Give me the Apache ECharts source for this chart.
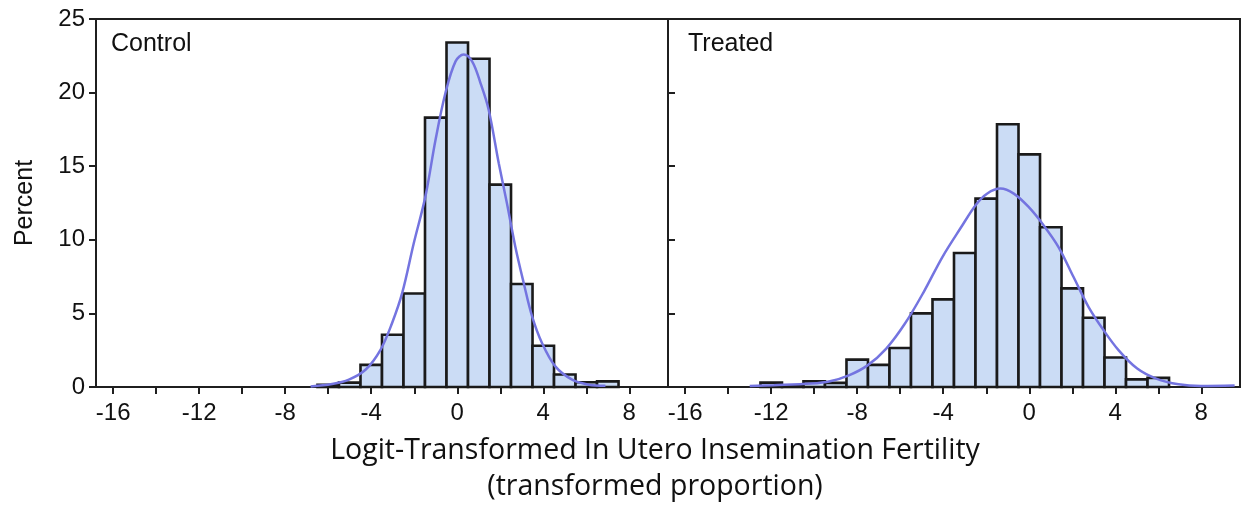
<!DOCTYPE html>
<html>
<head>
<meta charset="utf-8">
<script src="https://cdn.jsdelivr.net/npm/echarts@6/dist/echarts.min.js"></script>
<style>
html,body{margin:0;padding:0;background:#fff;}
#chart{width:1248px;height:506px;}
</style>
</head>
<body>
<div id="chart"></div>
<script>
// ---- data ----
const panelNames = ['Control', 'Treated'];
const binWidth = 1;
const controlBins = [-6, -5, -4, -3, -2, -1, 0, 1, 2, 3, 4, 5, 6, 7];
const controlPct = [0.15, 0.3, 1.5, 3.55, 6.35, 18.3, 23.4, 22.3, 13.75, 7.0, 2.8, 0.85, 0.32, 0.38];
const treatedBins = [-12, -11, -10, -9, -8, -7, -6, -5, -4, -3, -2, -1, 0, 1, 2, 3, 4, 5, 6];
const treatedPct = [0.3, 0.1, 0.38, 0.28, 1.86, 1.5, 2.65, 5.0, 5.95, 9.1, 12.8, 17.85, 15.8, 10.85, 6.7, 4.7, 2.0, 0.52, 0.62];
const controlCurveX = [-6.82, -5.82, -5.04, -4.27, -3.57, -3.03, -2.56, -2.02, -1.48, -1.01, -0.55, -0.08, 0.30, 0.69, 1.08, 1.46, 1.93, 2.31, 2.70, 3.09, 3.48, 3.94, 4.56, 5.34, 6.11, 6.89];
const controlCurveY = [0.04, 0.2, 0.5, 1.17, 2.53, 4.35, 6.39, 9.78, 12.95, 16.8, 19.97, 22.12, 22.58, 22.12, 20.65, 18.84, 15.2, 12.48, 9.53, 7.07, 4.8, 2.99, 1.4, 0.5, 0.16, 0.09];
const treatedCurveX = [-13.0, -11.88, -10.13, -9.26, -8.39, -7.52, -6.65, -5.78, -4.91, -4.04, -3.17, -2.47, -1.95, -1.34, -0.72, -0.03, 0.67, 1.36, 2.06, 2.76, 3.46, 4.16, 5.02, 5.90, 6.94, 7.99, 9.55];
const treatedCurveY = [0.07, 0.12, 0.23, 0.39, 0.79, 1.47, 2.61, 4.31, 6.45, 8.83, 10.85, 12.4, 13.15, 13.48, 13.14, 12.23, 10.98, 9.51, 7.47, 5.43, 3.85, 2.49, 1.25, 0.57, 0.18, 0.07, 0.1];
const xTickValues = [-16, -14, -12, -10, -8, -6, -4, -2, 0, 2, 4, 6, 8];
const xLabelValues = [-16, -12, -8, -4, 0, 4, 8];
const xMin = -16.8, xMax = 9.8;
const yMin = 0, yMax = 25, yStep = 5;
const yTitle = 'Percent';
const xTitleLines = ['Logit-Transformed In Utero Insemination Fertility', '(transformed proportion)'];

// ---- styles ----
const axisColor = '#1f1f1f';
const barFill = '#cbdcf5';
const curveColor = '#7474e0';
const tickFont = 'Liberation Sans, Arial, sans-serif';

const chart = echarts.init(document.getElementById('chart'), null, {renderer: 'canvas'});

function zip(a, b) { return a.map((v, i) => [v, b[i]]); }

function makeX(gridIndex) {
  return {
    type: 'value', gridIndex: gridIndex, min: xMin, max: xMax,
    axisLine: {show: true, onZero: false, lineStyle: {color: axisColor, width: 2}},
    axisTick: {show: true, inside: false, length: 7, customValues: xTickValues, lineStyle: {color: axisColor, width: 2}},
    axisLabel: {show: true, customValues: xLabelValues, margin: 14, color: '#111', fontSize: 24, fontFamily: tickFont},
    splitLine: {show: false}
  };
}
function makeY(gridIndex, withLabels) {
  return {
    type: 'value', gridIndex: gridIndex, min: yMin, max: yMax, interval: yStep,
    name: withLabels ? yTitle : '', nameLocation: 'middle', nameGap: 58, nameRotate: 90,
    nameTextStyle: {fontSize: 25, color: '#111', fontFamily: tickFont},
    axisLine: {show: true, onZero: false, lineStyle: {color: axisColor, width: 2}},
    axisTick: {show: true, inside: !withLabels, length: 7, lineStyle: {color: axisColor, width: 2}},
    axisLabel: {show: withLabels, margin: 11, color: '#111', fontSize: 24, fontFamily: tickFont},
    splitLine: {show: false}
  };
}

function histSeries(idx, bins, pct) {
  return {
    type: 'custom', xAxisIndex: idx, yAxisIndex: idx, z: 2,
    data: zip(bins, pct),
    encode: {x: 0, y: 1},
    renderItem: function (params, api) {
      const c = api.value(0), v = api.value(1);
      const p0 = api.coord([c - binWidth / 2, v]);
      const p1 = api.coord([c + binWidth / 2, 0]);
      return {
        type: 'rect',
        shape: {x: p0[0], y: p0[1], width: p1[0] - p0[0], height: p1[1] - p0[1]},
        style: {fill: barFill, stroke: '#1a1a1a', lineWidth: 2.6}
      };
    }
  };
}
function curveSeries(idx, xs, ys) {
  return {
    type: 'line', xAxisIndex: idx, yAxisIndex: idx, z: 5,
    data: zip(xs, ys), smooth: 0.35, showSymbol: false, symbol: 'none',
    lineStyle: {color: curveColor, width: 2.5}
  };
}

const titleFont = 'Open Sans, sans-serif';
const option = {
  animation: false,
  backgroundColor: '#ffffff',
  grid: [
    {left: 96, top: 19, width: 572, height: 368, show: true, borderColor: axisColor, borderWidth: 2, backgroundColor: 'transparent'},
    {left: 668, top: 19, width: 572, height: 368, show: true, borderColor: axisColor, borderWidth: 2, backgroundColor: 'transparent'}
  ],
  xAxis: [makeX(0), makeX(1)],
  yAxis: [makeY(0, true), makeY(1, false)],
  series: [
    histSeries(0, controlBins, controlPct),
    histSeries(1, treatedBins, treatedPct),
    curveSeries(0, controlCurveX, controlCurveY),
    curveSeries(1, treatedCurveX, treatedCurveY)
  ],
  graphic: [
    {type: 'text', left: 111, top: 32, style: {text: panelNames[0], fontSize: 25, fill: '#111', fontFamily: tickFont}},
    {type: 'text', left: 688, top: 32, style: {text: panelNames[1], fontSize: 25, fill: '#111', fontFamily: tickFont}},
    {type: 'text', x: 655, y: 451, style: {text: xTitleLines[0], fontSize: 28.5, fill: '#111', fontFamily: titleFont, align: 'center', verticalAlign: 'middle'}},
    {type: 'text', x: 655, y: 487, style: {text: xTitleLines[1], fontSize: 28.5, fill: '#111', fontFamily: titleFont, align: 'center', verticalAlign: 'middle'}}
  ]
};
chart.setOption(option);
</script>
</body>
</html>
